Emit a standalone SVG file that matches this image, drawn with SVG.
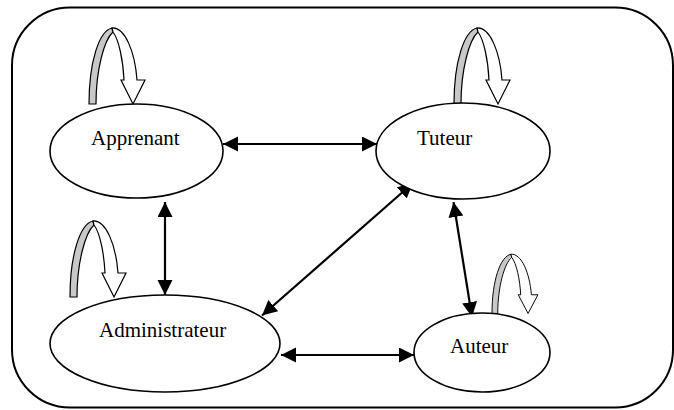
<svg xmlns="http://www.w3.org/2000/svg" width="674" height="410" viewBox="0 0 674 410">
  <style>
    .frame { fill: none; stroke: #000; stroke-width: 2; }
    .node { fill: #fff; stroke: #000; stroke-width: 1.6; }
    .label { font-family: "Liberation Serif", "Times New Roman", serif; font-size: 21px; fill: #000; }
    .link { stroke: #000; stroke-width: 2.2; fill: none; marker-start: url(#head); marker-end: url(#head); }
    .loop-back { fill: #c8c8c8; stroke: #000; stroke-width: 1.2; stroke-linejoin: round; }
    .loop-front { fill: #fff; stroke: #000; stroke-width: 1.2; stroke-linejoin: miter; }
  </style>
  <defs>
    <marker id="head" markerUnits="userSpaceOnUse" markerWidth="16" markerHeight="16" refX="15" refY="7.5" orient="auto-start-reverse" viewBox="0 0 16 16">
      <path d="M0,0 L15,7.5 L0,15 Z" fill="#000"/>
    </marker>
    <!-- curved self-loop arrow: shaded back leg + white front band with block head -->
    <g id="selfloop">
      <path class="loop-back" d="M0,0 C0,-42 10,-73 23,-76 L24,-72 C15,-64 7,-34 7,0 Z"/>
      <path class="loop-front" d="M23,-76 C36,-77 46,-52 48,-24 L56,-24 L44,0 L32,-24 L35,-24 C34,-44 30,-64 24,-72 Z"/>
    </g>
  </defs>

  <!-- outer frame -->
  <rect class="frame" x="12" y="7.5" width="661" height="400" rx="58" ry="58"/>

  <!-- connectors -->
  <g id="connectors">
    <line class="link" x1="223" y1="144" x2="377" y2="144"/>
    <line class="link" x1="165" y1="202" x2="165" y2="295"/>
    <line class="link" x1="413" y1="183" x2="262" y2="315.5"/>
    <line class="link" x1="281" y1="355" x2="414" y2="355"/>
    <line class="link" x1="453.5" y1="202" x2="472" y2="317"/>
  </g>

  <g id="apprenant">
    <use href="#selfloop" transform="translate(89,104)"/>
    <ellipse class="node" cx="136.5" cy="151" rx="86.5" ry="47"/>
    <text class="label" x="91" y="145">Apprenant</text>
  </g>

  <g id="tuteur">
    <use href="#selfloop" transform="translate(454,104)"/>
    <ellipse class="node" cx="463" cy="151" rx="87" ry="48"/>
    <text class="label" x="417" y="145">Tuteur</text>
  </g>

  <g id="administrateur">
    <use href="#selfloop" transform="translate(70,297)"/>
    <ellipse class="node" cx="165" cy="343.5" rx="115" ry="48.5"/>
    <text class="label" x="99" y="337">Administrateur</text>
  </g>

  <g id="auteur">
    <use href="#selfloop" transform="translate(492,313.5) scale(0.82,0.78)"/>
    <ellipse class="node" cx="482" cy="352.5" rx="68" ry="39.5"/>
    <text class="label" x="450" y="353">Auteur</text>
  </g>
</svg>
